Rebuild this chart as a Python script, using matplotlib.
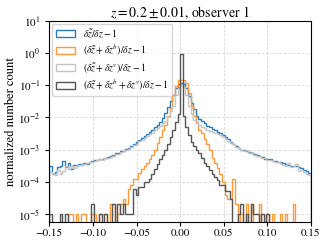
import numpy as np
import matplotlib
matplotlib.use('Agg')
import matplotlib.pyplot as plt
from matplotlib.ticker import FuncFormatter

plt.rcParams['font.family'] = 'STIXGeneral'
plt.rcParams['mathtext.fontset'] = 'stix'

# histogram bins (100 bins of width 0.003)
edges = np.linspace(-0.15, 0.15, 101)
n_total = 100000  # counts are normalised by this

# counts per bin
counts_dz = [
    32, 18, 20, 28, 30, 45, 28, 38, 25, 34,
    30, 36, 33, 38, 36, 42, 44, 46, 48, 52,
    50, 56, 58, 62, 66, 78, 76, 88, 92, 105,
    115, 130, 150, 175, 200, 230, 270, 310, 360, 420,
    500, 600, 740, 950, 1400, 2100, 3300, 5100, 8300, 11000,
    12000, 11000, 8300, 4500, 2800, 1800, 1150, 900, 760, 650,
    560, 500, 450, 400, 360, 320, 285, 240, 210, 175,
    150, 130, 115, 100, 98, 92, 85, 80, 72, 66,
    62, 58, 52, 50, 52, 45, 44, 40, 42, 38,
    36, 34, 32, 30, 31, 28, 27, 24, 22, 19]

counts_b = [
    0, 0, 0, 0, 0, 0, 0, 1, 1, 0,
    1, 0, 1, 1, 0, 0, 1, 1, 0, 1,
    1, 1, 0, 2, 2, 0, 1, 2, 3, 2,
    6, 8, 12, 12, 19, 25, 30, 38, 50, 70,
    100, 160, 250, 400, 600, 1100, 2000, 5100, 9300, 14800,
    14800, 14500, 11700, 5700, 2200, 1100, 650, 420, 330, 220,
    150, 95, 55, 38, 26, 18, 10, 4, 3, 3,
    12, 2, 0, 1, 0, 2, 0, 2, 0, 0,
    2, 0, 0, 1, 0, 1, 0, 0, 1, 0,
    1, 0, 0, 2, 0, 0, 0, 0, 0, 0]

counts_v = [
    20, 18, 16, 24, 18, 22, 30, 25, 32, 26,
    30, 33, 34, 36, 38, 40, 42, 44, 47, 50,
    48, 54, 56, 58, 64, 72, 74, 82, 88, 95,
    105, 120, 135, 155, 180, 205, 235, 265, 300, 340,
    400, 460, 540, 650, 800, 1050, 1550, 2300, 5000, 8500,
    10500, 9000, 5100, 2240, 1260, 850, 750, 600, 520, 460,
    420, 390, 350, 330, 310, 280, 250, 215, 190, 165,
    145, 125, 112, 100, 92, 96, 80, 82, 70, 64,
    62, 55, 56, 48, 46, 44, 40, 42, 36, 34,
    32, 38, 28, 30, 36, 22, 24, 20, 18, 16]

counts_bv = [
    1, 0, 0, 0, 1, 0, 1, 0, 0, 0,
    0, 0, 0, 0, 0, 0, 2, 0, 0, 1,
    0, 1, 0, 0, 2, 0, 2, 1, 2, 1,
    1, 1, 6, 4, 7, 7, 10, 10, 12, 18,
    25, 35, 50, 70, 100, 150, 250, 420, 700, 1300,
    93000, 1100, 500, 280, 170, 130, 100, 80, 55, 38,
    30, 24, 18, 14, 11, 8, 8, 5, 5, 3,
    0, 0, 1, 2, 0, 1, 0, 2, 1, 1,
    0, 1, 0, 1, 0, 0, 0, 0, 0, 0,
    0, 0, 0, 0, 0, 0, 0, 0, 0, 0]

xticks = [-0.15, -0.10, -0.05, 0.00, 0.05, 0.10, 0.15]
yticks = [1e-5, 1e-4, 1e-3, 1e-2, 1e-1, 1e0, 1e1]

labels = [r'$\delta\tilde{z}/\delta z-1$',
          r'$(\delta\tilde{z}+\delta z^{b})/\delta z-1$',
          r'$(\delta\tilde{z}+\delta z^{v})/\delta z-1$',
          r'$(\delta\tilde{z}+\delta z^{b}+\delta z^{v})/\delta z-1$']
colors = ['#2b7bba', '#ff9a3c', '#c4c4c4', '#555555']

fig = plt.figure(figsize=(3.29, 2.47), dpi=100)
ax = fig.add_axes([0.150, 0.100, 0.795, 0.815])

centers = 0.5 * (edges[:-1] + edges[1:])
for c, col, lab in zip([counts_dz, counts_b, counts_v, counts_bv], colors, labels):
    w = np.array(c, dtype=float) / n_total
    ax.hist(centers, bins=edges, weights=w, histtype='step', color=col,
            label=lab, lw=1.0, log=True)

ax.set_xlim(-0.15, 0.15)
ax.set_ylim(5.5e-6, 10)
ax.set_xticks(xticks)
ax.set_yticks(yticks)
ax.xaxis.set_major_formatter(FuncFormatter(lambda v, p: f'{v:.2f}'.replace('-', '\u2212')))
ax.minorticks_off()
ax.tick_params(labelsize=8, length=3)
ax.tick_params(axis='x', pad=1.5)
ax.grid(True, ls='--', color='#d8d8d8', lw=0.6)
ax.set_axisbelow(True)
ax.set_ylabel('normalized number count', fontsize=9, labelpad=1)
ax.set_title(r'$z=0.2\pm0.01$, observer 1', fontsize=10, pad=3)
ax.legend(loc='upper left', fontsize=7, borderaxespad=0.3, labelspacing=0.3,
          handlelength=2.0, borderpad=0.35)

fig.savefig('out.png', dpi=100)
